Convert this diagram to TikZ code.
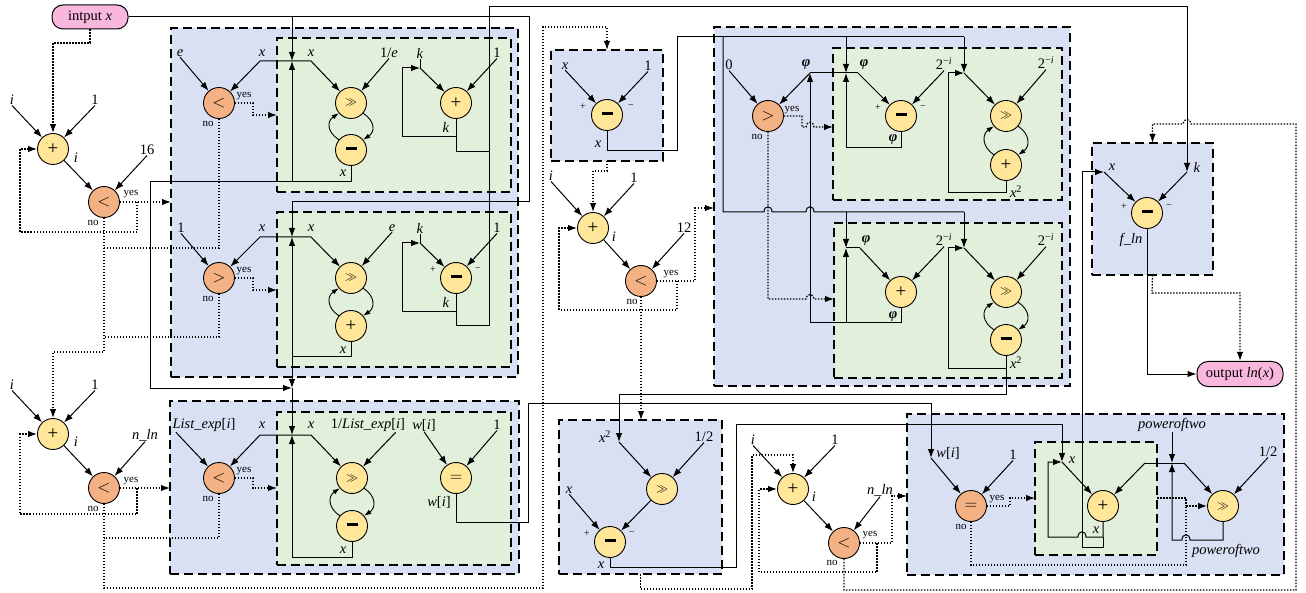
\documentclass[tikz,border=0pt]{standalone}
\usepackage{fontspec}
\setmainfont{Liberation Serif}
\usetikzlibrary{arrows.meta}
\definecolor{bluec}{RGB}{218,224,243}
\definecolor{greenc}{RGB}{226,239,218}
\definecolor{yellowc}{RGB}{255,230,153}
\definecolor{orangec}{RGB}{244,177,131}
\definecolor{pinkc}{RGB}{250,183,222}
\newcommand{\cminus}{\rule[3.4pt]{11pt}{2.6pt}}
\newcommand{\cplus}{{\fontsize{19}{19}\selectfont +}}
\newcommand{\cgg}{{\fontsize{12}{12}\selectfont$\gg$}}
\newcommand{\clt}{{\fontsize{16}{16}\selectfont$<$}}
\newcommand{\cgt}{{\fontsize{16}{16}\selectfont$>$}}
\newcommand{\ceq}{{\fontsize{16}{16}\selectfont$=$}}
\newcommand{\phiv}{\textbf{\textit{φ}}}
\newcommand{\tmi}{2\textsuperscript{−\textit{i}}}
\newcommand{\xsq}{\textit{x}\textsuperscript{2}}
\begin{document}
\begin{tikzpicture}[x=1pt,y=-1pt,
  yel/.style={circle,draw,line width=0.9pt,fill=yellowc,minimum size=31pt,inner sep=0pt},
  org/.style={yel,fill=orangec},
  lab/.style={font=\fontsize{14.5}{15}\selectfont,inner sep=0.5pt},
  yn/.style={font=\fontsize{11}{11}\selectfont,inner sep=0.5pt},
  pm/.style={font=\fontsize{10}{10}\selectfont,inner sep=0.5pt},
  ln/.style={line width=1pt},
  arr/.style={line width=1pt,-{Latex[length=9pt,width=6.5pt]}},
  arrs/.style={line width=0.9pt,-{Latex[length=7pt,width=5pt]}},
  dot/.style={line width=1.3pt,dash pattern=on 1.5pt off 1.5pt},
  darr/.style={dot,-{Latex[length=9pt,width=6.5pt]}},
  blk/.style={draw,fill=bluec,line width=1.2pt,dash pattern=on 9pt off 5pt,inner sep=0pt,outer sep=0pt,anchor=north west},
  grn/.style={blk,fill=greenc},
  term/.style={draw,rounded corners=11pt,fill=pinkc,line width=1pt,font=\fontsize{14.5}{15}\selectfont,inner sep=0pt},
]
\newcommand{\lp}[2]{\draw[arrs] (#1.-40) .. controls +(12,8) and +(12,-8) .. (#2.40); \draw[arrs] (#2.140) .. controls +(-12,-8) and +(-12,8) .. (#1.220);}
\useasboundingbox[fill=white] (0,0) rectangle (1306,593);
% ---------- blocks
\node[blk,minimum width=347pt,minimum height=349pt] (BA) at (171,28) {};
\node[grn,minimum width=234pt,minimum height=154pt] (GA1) at (277,38) {};
\node[grn,minimum width=234pt,minimum height=155pt] (GA2) at (277,212) {};
\node[blk,minimum width=349pt,minimum height=173pt] (BB) at (170,401) {};
\node[grn,minimum width=234pt,minimum height=153pt] (GB) at (277,412) {};
\node[blk,minimum width=112pt,minimum height=111pt] (BC) at (551,50) {};
\node[blk,minimum width=163pt,minimum height=154pt] (BD) at (559,420) {};
\node[blk,minimum width=356pt,minimum height=359pt] (BG) at (714,27) {};
\node[grn,minimum width=229pt,minimum height=152pt] (GG1) at (833,48) {};
\node[grn,minimum width=228pt,minimum height=155pt] (GG2) at (834,223) {};
\node[blk,minimum width=377pt,minimum height=161pt] (BE) at (907,414) {};
\node[grn,minimum width=122pt,minimum height=113pt] (GE) at (1035,442) {};
\node[blk,minimum width=121pt,minimum height=132pt] (BF) at (1092,143) {};
% ---------- terminals
\node[term,minimum width=76pt,minimum height=24pt] (IN) at (90,17) {intput \textit{x}};
\node[term,minimum width=86pt,minimum height=25pt] (OUT) at (1240,374) {output \textit{ln}(\textit{x})};
% ---------- operators
\node[yel] (P1) at (53,149) {\cplus};
\node[org] (L1) at (104,202) {\clt};
\node[yel] (P2) at (53,434) {\cplus};
\node[org] (L2) at (104,488) {\clt};
\node[org] (CA1) at (219,103) {\clt};
\node[yel] (S1) at (351,103) {\cgg};
\node[yel] (M1) at (351,150) {\cminus};
\node[yel] (A1) at (456,103) {\cplus};
\node[org] (CA2) at (219,278) {\cgt};
\node[yel] (S2) at (351,278) {\cgg};
\node[yel] (A2b) at (351,326) {\cplus};
\node[yel] (M2) at (456,278) {\cminus};
\node[org] (CB) at (219,478) {\clt};
\node[yel] (S3) at (352,478) {\cgg};
\node[yel] (M3) at (352,526) {\cminus};
\node[yel] (E3) at (456,478) {\ceq};
\node[yel] (M4) at (607,115) {\cminus};
\node[yel] (P3) at (593,228) {\cplus};
\node[org] (L3) at (641,281) {\clt};
\node[yel] (S4) at (662,489) {\cgg};
\node[yel] (M5) at (610,542) {\cminus};
\node[yel] (P4) at (793,489) {\cplus};
\node[org] (L4) at (844,543) {\clt};
\node[org] (CG) at (768,116) {\cgt};
\node[yel] (M7) at (901,116) {\cminus};
\node[yel] (S6) at (1006,116) {\cgg};
\node[yel] (A6) at (1006,165) {\cplus};
\node[yel] (A7) at (901,292) {\cplus};
\node[yel] (S7) at (1006,292) {\cgg};
\node[yel] (M8) at (1006,340) {\cminus};
\node[org] (CE) at (971,506) {\ceq};
\node[yel] (A5) at (1103,506) {\cplus};
\node[yel] (S5) at (1223,506) {\cgg};
\node[yel] (M6) at (1147,213) {\cminus};
% ---------- junction coordinates
\coordinate (J1) at (292,61);
\coordinate (J2) at (292,237);
\coordinate (J3a) at (292,388);
\coordinate (J3) at (292,435);
\coordinate (Jk1) at (420,68);
\coordinate (Jk2) at (420,243);
\coordinate (J4) at (846,73);
\coordinate (J5) at (846,248);
\coordinate (J6) at (964,73);
\coordinate (J8) at (964,248);
\coordinate (Jphi) at (810,73);
\coordinate (Jx2) at (619,442);
\coordinate (Jw) at (931,458);
\coordinate (J7) at (1062,462);
\coordinate (Jp) at (1172,463);
\coordinate (xF) at (1104,172);
\coordinate (kF) at (1187,172);
% ---------- labels left column
\node[lab] (li1) at (12,100) {\textit{i}};
\node[lab] (l11) at (95,100) {1};
\node[lab] (oi1) at (76,158) {\textit{i}};
\node[lab] (l16) at (147,150) {16};
\node[yn] at (131,194) {yes};
\node[yn] at (93,223) {no};
\node[lab] (li2) at (12,385) {\textit{i}};
\node[lab] (l12) at (95,385) {1};
\node[lab] (oi2) at (76,442) {\textit{i}};
\node[lab] (lnln) at (145,435) {\textit{n\_ln}};
\node[yn] at (131,481) {yes};
\node[yn] at (93,509) {no};
% block A labels
\node[lab] (le1) at (180,53) {\textit{e}};
\node[lab] at (262,53) {\textit{x}};
\node[yn] at (244,96) {yes};
\node[yn] at (208,124) {no};
\node[lab] at (311,53) {\textit{x}};
\node[lab] (lie) at (389,53) {1/\textit{e}};
\node[lab] at (343,173) {\textit{x}};
\node[lab] (lk1) at (420,53) {\textit{k}};
\node[lab] (l1a) at (497,53) {1};
\node[lab] at (446,127) {\textit{k}};
\node[lab] (l1c) at (181,228) {1};
\node[lab] at (262,228) {\textit{x}};
\node[yn] at (244,271) {yes};
\node[yn] at (208,299) {no};
\node[lab] at (311,228) {\textit{x}};
\node[lab] (le2) at (392,228) {\textit{e}};
\node[lab] at (343,350) {\textit{x}};
\node[lab] (lk2) at (420,228) {\textit{k}};
\node[lab] (l1d) at (497,228) {1};
\node[pm] at (433,270) {+};
\node[pm] at (478,270) {−};
\node[lab] at (446,302) {\textit{k}};
% block B labels
\node[lab] (llist) at (204,425) {\textit{List\_exp}[\textit{i}]};
\node[lab] at (262,425) {\textit{x}};
\node[yn] at (244,471) {yes};
\node[yn] at (208,499) {no};
\node[lab] at (311,425) {\textit{x}};
\node[lab] (llist2) at (368,425) {1/\textit{List\_exp}[\textit{i}]};
\node[lab] at (343,550) {\textit{x}};
\node[lab] (lw1) at (424,425) {\textit{w}[\textit{i}]};
\node[lab] (l1e) at (497,425) {1};
\node[lab] at (439,502) {\textit{w}[\textit{i}]};
% middle labels
\node[lab] (lx4) at (565,66) {\textit{x}};
\node[lab] (l14) at (648,66) {1};
\node[pm] at (583,107) {+};
\node[pm] at (631,107) {−};
\node[lab] at (598,144) {\textit{x}};
\node[lab] (li3) at (551,176) {\textit{i}};
\node[lab] (l13) at (634,178) {1};
\node[lab] at (614,237) {\textit{i}};
\node[lab] (l12b) at (684,228) {12};
\node[yn] at (671,274) {yes};
\node[yn] at (632,302) {no};
\node[lab] at (605,437) {\xsq};
\node[lab] (l12c) at (704,437) {1/2};
\node[lab] (lx5) at (569,490) {\textit{x}};
\node[pm] at (587,534) {+};
\node[pm] at (632,534) {−};
\node[lab] at (601,565) {\textit{x}};
\node[lab] (li4) at (753,440) {\textit{i}};
\node[lab] (l14b) at (835,440) {1};
\node[lab] at (814,497) {\textit{i}};
\node[lab] (lnln2) at (880,490) {\textit{n\_ln}};
\node[yn] at (870,535) {yes};
\node[yn] at (832,563) {no};
% phi block labels
\node[lab] (l0) at (729,65) {0};
\node[lab] at (806,65) {\phiv};
\node[yn] at (792,110) {yes};
\node[yn] at (757,137) {no};
\node[lab] at (864,65) {\phiv};
\node[lab] (l2i1) at (944,64) {\tmi};
\node[pm] at (878,108) {+};
\node[pm] at (923,108) {−};
\node[lab] at (893,140) {\phiv};
\node[lab] (l2i2) at (1046,63) {\tmi};
\node[lab] at (1016,192) {\xsq};
\node[lab] at (866,241) {\phiv};
\node[lab] (l2i3) at (944,240) {\tmi};
\node[lab] (l2i4) at (1046,240) {\tmi};
\node[lab] at (893,317) {\phiv};
\node[lab] at (1016,363) {\xsq};
% block E labels
\node[lab] at (948,453) {\textit{w}[\textit{i}]};
\node[lab] (l1f) at (1013,455) {1};
\node[yn] at (997,499) {yes};
\node[yn] at (961,527) {no};
\node[lab] at (1072,460) {\textit{x}};
\node[lab] at (1096,530) {\textit{x}};
\node[lab] (lpow) at (1172,425) {\textit{poweroftwo}};
\node[lab] (l12d) at (1268,452) {1/2};
\node[lab] at (1226,551) {\textit{poweroftwo}};
% block F labels
\node[lab] at (1112,167) {\textit{x}};
\node[lab] at (1197,167) {\textit{k}};
\node[pm] at (1124,207) {+};
\node[pm] at (1169,207) {−};
\node[lab] at (1131,240) {\textit{f\_ln}};
% ---------- left column connectors
\draw[darr] (IN.south) -- (90,43) -| (P1.north);
\draw[arr] (li1.south) -- (P1);
\draw[arr] (l11.south) -- (P1);
\draw[arr] (P1) -- (L1);
\draw[arr] (l16.south) -- (L1);
\draw[darr] (L1.east) -- (L1.east -| BA.west);
\draw[darr] (137,202) -- (137,232) -- (20,232) -- (20,149) -- (P1.west);
\draw[darr] (L1.south) -- (104,352) -| (P2.north);
\draw[dot] (CA1.south) -- (219,248) -- (104,248);
\draw[dot] (CA2.south) -- (219,337) -- (104,337);
\draw[arr] (li2.south) -- (P2);
\draw[arr] (l12.south) -- (P2);
\draw[arr] (P2) -- (L2);
\draw[arr] (lnln.south) -- (L2);
\draw[darr] (L2.east) -- (L2.east -| BB.west);
\draw[darr] (137,488) -- (137,514) -- (20,514) -- (20,434) -- (P2.west);
\draw[darr] (L2.south) |- (543,588) |- (607,27) -- (BC.north);
\draw[dot] (CB.south) -- (219,538) -- (104,538);
% ---------- block A connectors
\draw[arr] (IN.east) -- (529,17) -- (529,202) -- (292,202) -- (J2);
\draw[arr] (292,17) -- (J1);
\draw[arr] (M1.south) |- (292,182) -- (J1);
\draw[arr] (292,182) -- (150,182) -- (150,388) -- (J3a);
\draw[arr] (A2b.south) |- (292,357) -- (J2);
\draw[arr] (292,357) -- (J3a);
\draw[arr] (J3a) -- (J3);
\draw[arr] (M3.south) |- (292,557) -- (J3);
\draw[arr] (J1) -- (260,61) -- (CA1);
\draw[arr] (J1) -- (311,61) -- (S1);
\draw[arr] (le1.south) -- (CA1);
\draw[arr] (lie.south) -- (S1);
\draw[darr] (CA1.east) -- (253,103) -- (253,115) -- (253,115 -| GA1.west);
\draw[ln] (lk1.south) -- (Jk1);
\draw[arr] (Jk1) -- (A1);
\draw[arr] (l1a.south) -- (A1);
\draw[ln] (A1.south) -- (456,152) -- (489,152);
\draw[arr] (456,137) -- (402,137) -- (402,68) -- (Jk1);
\lp{S1}{M1}
\draw[arr] (J2) -- (260,237) -- (CA2);
\draw[arr] (J2) -- (311,237) -- (S2);
\draw[arr] (l1c.south) -- (CA2);
\draw[arr] (le2.south) -- (S2);
\draw[darr] (CA2.east) -- (253,278) -- (253,290) -- (253,290 -| GA2.west);
\draw[ln] (lk2.south) -- (Jk2);
\draw[arr] (Jk2) -- (M2);
\draw[arr] (l1d.south) -- (M2);
\draw[ln] (M2.south) -- (456,326) -- (489,326);
\draw[arr] (456,312) -- (402,312) -- (402,243) -- (Jk2);
\lp{S2}{A2b}
\draw[arr] (489,326) -- (489,7) -- (1187,7) -- (kF);
% ---------- block B connectors
\draw[arr] (J3) -- (260,435) -- (CB);
\draw[arr] (J3) -- (311,435) -- (S3);
\draw[arr] ([xshift=4pt]llist.south west) -- (CB);
\draw[arr] ([xshift=-10pt]llist2.south east) -- (S3);
\draw[darr] (CB.east) -- (253,478) -- (253,488) -- (253,488 -| GB.west);
\draw[arr] (lw1.south) -- (E3);
\draw[arr] (l1e.south) -- (E3);
\lp{S3}{M3}
\draw[arr] (E3.south) -- (456,522) -- (528,522) -- (528,403) -- (931,403) -- (Jw);
\draw[arr] (Jw) -- (CE);
% ---------- middle connectors
\draw[arr] (lx4.south) -- (M4);
\draw[arr] (l14.south) -- (M4);
\draw[ln] (M4.south) |- (677,151) -- (677,37) -- (964,37);
\draw[arr] (964,37) -- (J6);
\draw[arr] (846,37) -- (J4);
\draw[ln] (723,37) -- (723,212) -- (764,212) .. controls (764,205) and (772,205) .. (772,212) -- (806,212) .. controls (806,205) and (814,205) .. (814,212) -- (964,212);
\draw[arr] (964,212) -- (J8);
\draw[arr] (846,212) -- (J5);
\draw[darr] (BC.south) -- (607,171) -| (P3.north);
\draw[arr] (li3.south) -- (P3);
\draw[arr] (l13.south) -- (P3);
\draw[arr] (P3) -- (L3);
\draw[arr] (l12b.south) -- (L3);
\draw[darr] (L3.east) -- (695,281) -- (695,208) -- (695,208 -| BG.west);
\draw[darr] (677,281) -- (677,310) -- (559,310) -- (559,228) -- (P3.west);
\draw[darr] (L3.south) -- (L3.south |- BD.north);
\draw[arr] (M8.south) -- (1006,394) -- (619,394) -- (Jx2);
\draw[arr] (Jx2) -- (S4);
\draw[arr] (l12c.south) -- (S4);
\draw[arr] (S4) -- (M5);
\draw[arr] (lx5.south) -- (M5);
\draw[arr] (M5.south) |- (736,567) -- (736,424) -- (1062,424) -- (J7);
\draw[darr] (BD.south) |- (752,589) -- (752,455) -| (P4.north);
\draw[arr] (li4.south) -- (P4);
\draw[arr] (l14b.south) -- (P4);
\draw[arr] (P4) -- (L4);
\draw[arr] (lnln2.south) -- (L4);
\draw[darr] (L4.east) -- (892,543) -- (892,496) -- (892,496 -| BE.west);
\draw[darr] (877,543) -- (877,572) -- (759,572) -- (759,489) -- (P4.west);
\draw[darr] (L4.south) |- (1296,590) -- (1296,124) -- (1191,124) .. controls (1191,118) and (1183,118) .. (1183,124) -| (BF.north);
% ---------- phi block connectors
\draw[arr] (l0.south) -- (CG);
\draw[arr] (810,323) -- (Jphi);
\draw[arr] (Jphi) -- (CG);
\draw[ln] (Jphi) -- (858,73);
\draw[arr] (858,73) -- (M7);
\draw[arr] (M7.south) |- (846,148) -- (J4);
\draw[arr] (l2i1.south) -- (M7);
\draw[darr] (CG.east) -- (802,116) -- (802,127) -- (806,127) .. controls (806,121) and (814,121) .. (814,127) -- (833,127);
\draw[darr] (CG.south) -- (768,299) -- (806,299) .. controls (806,293) and (814,293) .. (814,299) -- (834,299);
\draw[arr] (J6) -- (S6);
\draw[arr] (l2i2.south) -- (S6);
\draw[arr] (A6.south) |- (948,193) -- (948,73) -- (J6);
\lp{S6}{A6}
\draw[ln] (J5) -- (860,248);
\draw[arr] (860,248) -- (A7);
\draw[ln] (A7.south) |- (810,323);
\draw[arr] (846,323) -- (J5);
\draw[arr] (l2i3.south) -- (A7);
\draw[arr] (J8) -- (S7);
\draw[arr] (l2i4.south) -- (S7);
\draw[arr] (M8.south) |- (948,369) -- (948,248) -- (J8);
\lp{S7}{M8}
% ---------- block E connectors
\draw[arr] (l1f.south) -- (CE);
\draw[darr] (CE.east) -- (1010,506) -- (1010,498) -- (1010,498 -| GE.west);
\draw[dot] (CE.south) |- (1186,565) -- (1186,506);
\draw[dot] (GE.east |- 1157,498) -- (1186,498) -- (1186,506);
\draw[darr] (1186,506) -- (S5);
\draw[arr] (J7) -- (A5);
\draw[arr] (A5.south) -- (1103,537) -- (1086,537) .. controls (1086,530) and (1078,530) .. (1078,537) -- (1048,537) -- (1048,462) -- (J7);
\draw[arr] (1103,537) -- (1103,547) -- (1082,547) -- (1082,172) -- (xF);
\draw[arr] (lpow.south) -- (Jp);
\draw[arr] (S5.south) -- (1223,540) -- (1190,540) .. controls (1190,533) and (1182,533) .. (1182,540) -- (1172,540) -- (Jp);
\draw[ln] (1145,463) -- (1184,463);
\draw[arr] (1145,463) -- (A5);
\draw[arr] (1184,463) -- (S5);
\draw[arr] (l12d.south) -- (S5);
% ---------- block F connectors
\draw[arr] (xF) -- (M6);
\draw[arr] (kF) -- (M6);
\draw[arr] (M6.south) |- (OUT.west);
\draw[darr] (BF.south) -- (1152,293) -| (OUT.north);
\end{tikzpicture}
\end{document}
